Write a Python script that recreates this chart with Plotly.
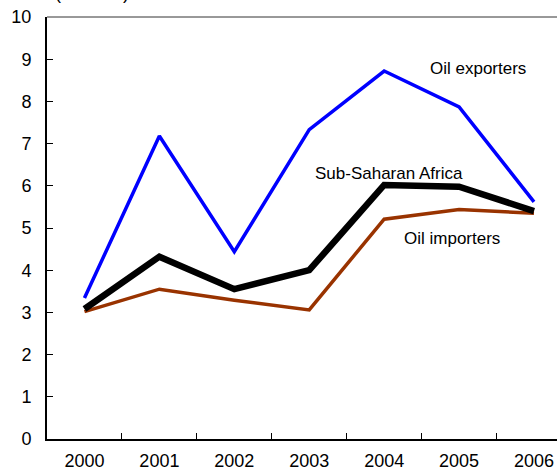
import plotly.graph_objects as go

years = ["2000", "2001", "2002", "2003", "2004", "2005", "2006"]
oil_exporters = [3.34, 7.18, 4.44, 7.33, 8.72, 7.87, 5.62]
ssa = [3.08, 4.32, 3.55, 4.00, 6.02, 5.98, 5.40]
oil_importers = [3.02, 3.55, 3.29, 3.06, 5.21, 5.44, 5.35]
y_ticks = list(range(0, 11))

FONT = "Liberation Sans, Arial, sans-serif"

fig = go.Figure()
fig.add_trace(go.Scatter(x=years, y=oil_exporters, mode="lines",
                         line=dict(color="#0000FF", width=3.5), name="Oil exporters"))
fig.add_trace(go.Scatter(x=years, y=oil_importers, mode="lines",
                         line=dict(color="#993300", width=3.5), name="Oil importers"))
fig.add_trace(go.Scatter(x=years, y=ssa, mode="lines",
                         line=dict(color="#000000", width=6.5), name="Sub-Saharan Africa"))

fig.update_layout(
    width=557, height=467,
    margin=dict(l=47, r=0, t=17, b=28),
    paper_bgcolor="white", plot_bgcolor="white",
    showlegend=False,
    font=dict(family=FONT, size=18, color="black"),
    xaxis=dict(type="category", range=[-0.5, 6.307], automargin=False,
               showline=True, linecolor="black", linewidth=2,
               ticks="inside", ticklen=6, tickcolor="black", tickwidth=1,
               tickson="boundaries", showgrid=False, zeroline=False,
               ticklabelstandoff=4,
               tickfont=dict(family=FONT, size=18, color="black")),
    yaxis=dict(range=[0, 10], tickvals=y_ticks, automargin=False,
               showline=True, linecolor="black", linewidth=2,
               ticks="inside", ticklen=6, tickcolor="black", tickwidth=1,
               showgrid=False, zeroline=False,
               ticklabelstandoff=10,
               tickfont=dict(family=FONT, size=18, color="black")),
    shapes=[dict(type="line", xref="paper", yref="paper", x0=0, x1=1, y0=1, y1=1,
                 line=dict(color="#333333", width=1))],
    annotations=[
        dict(text="Oil exporters", x=5.25, y=8.77, xref="x", yref="y",
             showarrow=False, font=dict(family=FONT, size=17)),
        dict(text="Sub-Saharan Africa", x=4.07, y=6.30, xref="x", yref="y",
             showarrow=False, font=dict(family=FONT, size=17)),
        dict(text="Oil importers", x=4.91, y=4.76, xref="x", yref="y",
             showarrow=False, font=dict(family=FONT, size=17)),
        dict(text="(Percent)", x=0.012, y=1, xref="paper", yref="paper",
             xanchor="left", yanchor="bottom", yshift=12, showarrow=False,
             font=dict(family=FONT, size=18)),
    ],
)

fig.write_html("out.html",
               config={"displayModeBar": False},
               post_script="document.body.style.margin='0';document.body.style.overflow='hidden';")
